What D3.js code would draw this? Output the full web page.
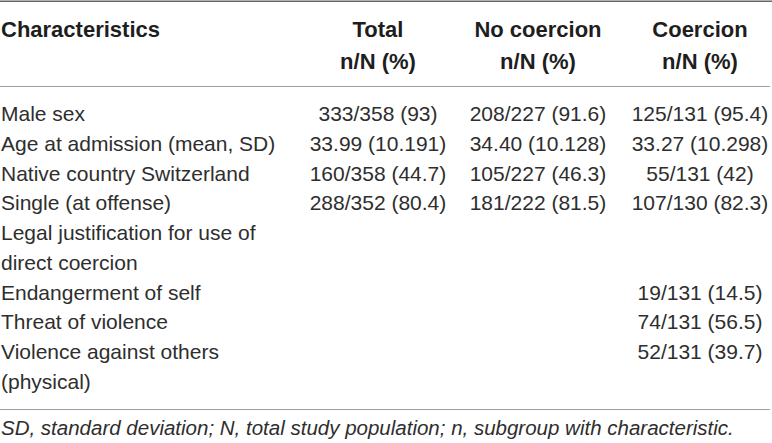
<!DOCTYPE html>
<html>
<head>
<meta charset="utf-8">
<script src="https://cdn.jsdelivr.net/npm/d3@7"></script>
<style>
html,body{margin:0;padding:0;background:#fff;}
svg{display:block;}
</style>
</head>
<body>
<svg id="chart" width="772" height="443"></svg>
<script>
const headerTop = ["Characteristics", "Total", "No coercion", "Coercion"];
const headerSub = ["", "n/N (%)", "n/N (%)", "n/N (%)"];
const characteristics = [
  ["Male sex"],
  ["Age at admission (mean, SD)"],
  ["Native country Switzerland"],
  ["Single (at offense)"],
  ["Legal justification for use of", "direct coercion"],
  ["Endangerment of self"],
  ["Threat of violence"],
  ["Violence against others", "(physical)"]
];
const totalCol = ["333/358 (93)", "33.99 (10.191)", "160/358 (44.7)", "288/352 (80.4)", "", "", "", ""];
const noCoercionCol = ["208/227 (91.6)", "34.40 (10.128)", "105/227 (46.3)", "181/222 (81.5)", "", "", "", ""];
const coercionCol = ["125/131 (95.4)", "33.27 (10.298)", "55/131 (42)", "107/130 (82.3)", "", "19/131 (14.5)", "74/131 (56.5)", "52/131 (39.7)"];
const footnote = "SD, standard deviation; N, total study population; n, subgroup with characteristic.";

const svg = d3.select("#chart");
const W = 772;
const font = "'Liberation Sans', Arial, Helvetica, sans-serif";

// column centers
const colX = d3.scaleOrdinal().domain([1, 2, 3]).range([378, 538, 700]);

// line index -> y
let lineIdx = 0;
const rows = characteristics.map((lines, i) => {
  const r = {lines, start: lineIdx, vals: [totalCol[i], noCoercionCol[i], coercionCol[i]]};
  lineIdx += lines.length;
  return r;
});
const y = d3.scaleLinear().domain([0, 1]).range([114, 143.7]);

// rules
svg.append("line").attr("x1", 0).attr("x2", W).attr("y1", 1.2).attr("y2", 1.2)
  .attr("stroke", "#666").attr("stroke-width", 1.6);
svg.append("line").attr("x1", 0).attr("x2", 770).attr("y1", 86.5).attr("y2", 86.5)
  .attr("stroke", "#a0a0a0").attr("stroke-width", 1.2);
svg.append("line").attr("x1", 0).attr("x2", 770).attr("y1", 409.5).attr("y2", 409.5)
  .attr("stroke", "#a0a0a0").attr("stroke-width", 1.2);

// header
const hdr = svg.append("g").attr("font-family", font).attr("font-weight", "bold")
  .attr("font-size", 22).attr("fill", "#1e1e1e");
headerTop.forEach((t, i) => {
  hdr.append("text").attr("x", i === 0 ? 1 : colX(i)).attr("y", 29)
    .attr("dy", "0.35em").attr("text-anchor", i === 0 ? "start" : "middle").text(t);
  if (headerSub[i]) {
    hdr.append("text").attr("x", colX(i)).attr("y", 61)
      .attr("dy", "0.35em").attr("text-anchor", "middle").text(headerSub[i]);
  }
});

// body
const body = svg.append("g").attr("font-family", font).attr("font-size", 21).attr("fill", "#2e2e2e");
rows.forEach(r => {
  r.lines.forEach((l, k) => {
    body.append("text").attr("x", 1).attr("y", y(r.start + k)).attr("dy", "0.35em").text(l);
  });
  r.vals.forEach((v, j) => {
    if (v) body.append("text").attr("x", colX(j + 1)).attr("y", y(r.start))
      .attr("dy", "0.35em").attr("text-anchor", "middle").text(v);
  });
});

// footnote
svg.append("text").attr("x", 1).attr("y", 427.5).attr("dy", "0.35em")
  .attr("font-family", font).attr("font-style", "italic").attr("font-size", 20.5)
  .attr("fill", "#2e2e2e").text(footnote);
</script>
</body>
</html>
